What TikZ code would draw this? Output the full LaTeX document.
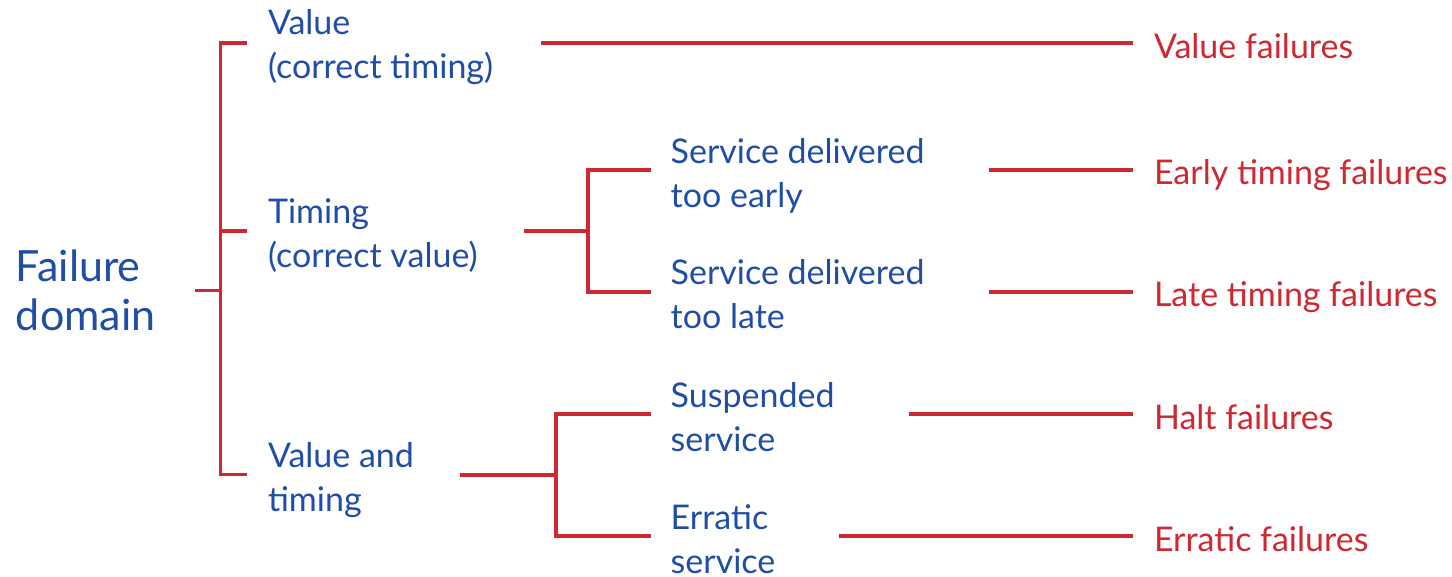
\documentclass[tikz,border=0pt]{standalone}
\usepackage{fontspec}
\setmainfont{Lato}
\definecolor{labelblue}{RGB}{32,78,166}
\definecolor{linkred}{RGB}{206,40,48}
\begin{document}
\begin{tikzpicture}[x=1pt,y=-1pt,
  link/.style={draw=linkred,line width=3.6pt},
  cat/.style={anchor=base west,inner sep=0pt,outer sep=0pt,align=left,
    text=labelblue,font=\fontsize{34}{44}\selectfont},
  result/.style={anchor=base west,inner sep=0pt,outer sep=0pt,
    text=linkred,font=\fontsize{34}{44}\selectfont},
  title/.style={anchor=base west,inner sep=0pt,outer sep=0pt,align=left,
    text=labelblue,font=\fontsize{43}{49}\selectfont}]
\useasboundingbox (0,0) rectangle (1452,577);

% labels (positions are the baselines of their last lines)
\node[title] (root) at (16,330.7) {Failure\\domain};
\node[cat] (val)   at (268,79)    {Value\\(correct timing)};
\node[cat] (tim)   at (268,267.5) {Timing\\(correct value)};
\node[cat] (vt)    at (268,511)   {Value and\\timing};
\node[cat] (early) at (670.7,207.5) {Service delivered\\too early};
\node[cat] (late)  at (670.7,329)  {Service delivered\\too late};
\node[cat] (susp)  at (670.7,451)  {Suspended\\service};
\node[cat] (errs)  at (670.7,573)  {Erratic\\service};

\node[result] (fval)   at (1154,58.6) {Value failures};
\node[result] (fearly) at (1154,185)  {Early timing failures};
\node[result] (flate)  at (1154,307)  {Late timing failures};
\node[result] (fhalt)  at (1154,429)  {Halt failures};
\node[result] (ferr)   at (1154,551)  {Erratic failures};

% bracket points
\coordinate (s1) at (195,290.7);
\coordinate (j1) at (220.5,290.7);
\coordinate (a1) at (246.7,43.3);
\coordinate (a2) at (246.7,231);
\coordinate (a3) at (246.7,474.3);

\coordinate (s2) at (524,231);
\coordinate (j2) at (587.7,231);
\coordinate (b1) at (650.7,170);
\coordinate (b2) at (650.7,292);

\coordinate (s3) at (460,475);
\coordinate (j3) at (555.7,475);
\coordinate (c1) at (650.7,414);
\coordinate (c2) at (650.7,535.7);

% outcome lead-ins
\coordinate (o1) at (541,43.3);
\coordinate (o2) at (988.5,170);
\coordinate (o3) at (988.5,292);
\coordinate (o4) at (908.5,414);
\coordinate (o5) at (839,535.7);
\coordinate (e1) at (1133.3,43.3);
\coordinate (e2) at (1133.3,170);
\coordinate (e3) at (1133.3,292);
\coordinate (e4) at (1133.3,414);
\coordinate (e5) at (1133.3,535.7);

% main bracket
\draw[link] (s1) -- (j1);
\draw[link] (a1) -| (j1) |- (a3);
\draw[link] (j1 |- a2) -- (a2);

% timing bracket
\draw[link] (s2) -- (j2);
\draw[link] (b1) -| (j2) |- (b2);

% value-and-timing bracket
\draw[link] (s3) -- (j3);
\draw[link] (c1) -| (j3) |- (c2);

% leads to failure classes
\draw[link] (o1) -- (e1);
\draw[link] (o2) -- (e2);
\draw[link] (o3) -- (e3);
\draw[link] (o4) -- (e4);
\draw[link] (o5) -- (e5);
\end{tikzpicture}
\end{document}
